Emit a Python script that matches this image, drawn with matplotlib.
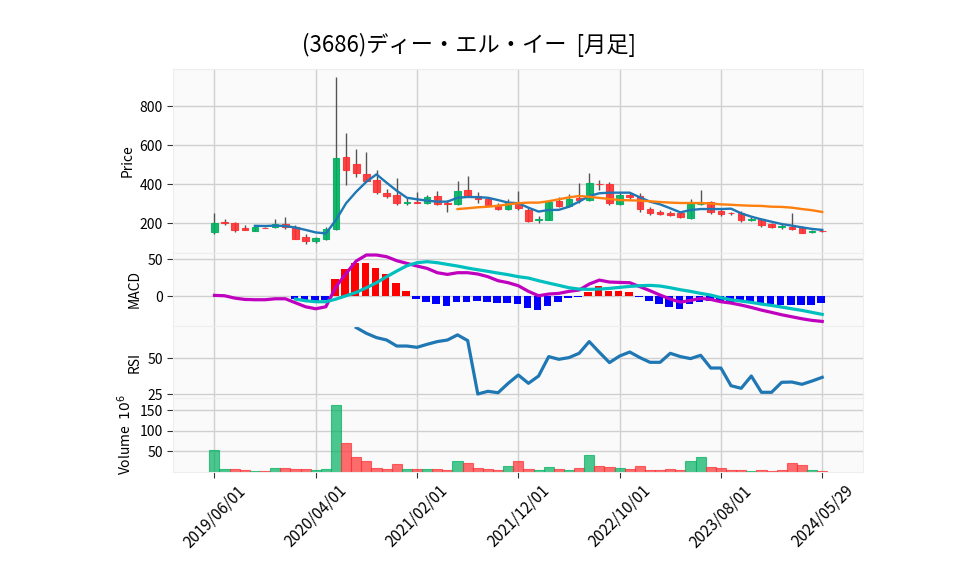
import numpy as np
import matplotlib
matplotlib.use('Agg')
from matplotlib import pyplot as plt

plt.rcParams['font.family'] = ['Noto Sans CJK JP', 'DejaVu Sans']

# monthly data (prices in yen, volume in millions)
tick_pos = [0, 10, 20, 30, 40, 50, 60]
tick_labels = ['2019/06/01', '2020/04/01', '2021/02/01', '2021/12/01',
               '2022/10/01', '2023/08/01', '2024/05/29']

opens = [157, 208, 200, 176, 162, 178, 181, 195, 179, 128, 108, 118, 169, 538, 503, 451,
         422, 355, 344, 305, 310, 306, 340, 302, 297, 371, 340, 323, 294, 275, 306, 268,
         217, 217, 314, 290, 330, 318, 403, 401, 300, 347, 340, 272, 260, 254, 251, 229,
         297, 308, 263, 255, 253, 219, 220, 196, 183, 181, 174, 154, 161]
highs = [251, 224, 208, 190, 182, 180, 220, 231, 191, 144, 131, 179, 949, 665, 583, 564,
         473, 376, 431, 336, 362, 344, 366, 319, 415, 443, 359, 330, 305, 325, 366, 277,
         237, 312, 333, 349, 405, 456, 422, 412, 353, 357, 354, 284, 268, 262, 258, 323,
         371, 314, 275, 260, 262, 230, 225, 200, 195, 251, 184, 168, 163]
lows = [145, 193, 154, 165, 160, 174, 178, 169, 119, 94, 100, 114, 165, 395, 436, 415,
        350, 328, 294, 294, 302, 297, 294, 260, 294, 336, 302, 292, 270, 268, 268, 207,
        200, 215, 282, 285, 305, 315, 371, 294, 294, 325, 260, 244, 244, 238, 225, 224,
        292, 248, 238, 245, 207, 212, 182, 174, 171, 168, 148, 150, 157]
closes = [200, 200, 167, 168, 179, 176, 195, 183, 121, 111, 125, 169, 535, 472, 459, 418,
          359, 342, 306, 308, 306, 336, 297, 299, 364, 342, 325, 295, 275, 303, 280, 213,
          224, 309, 290, 323, 321, 407, 399, 306, 345, 333, 272, 254, 248, 241, 231, 297,
          301, 256, 249, 252, 217, 222, 191, 181, 185, 172, 152, 162, 159]
volumes = [54, 7.7, 7.7, 5.3, 2.8, 2.8, 10, 10, 7.7, 7.7, 5.3, 7.7, 164, 71, 37, 25,
           10, 7.7, 20, 7.7, 7.7, 7.7, 7.7, 5.3, 25, 22, 10, 7.7, 5.3, 15, 25, 7.7,
           5.3, 12.6, 7.7, 5.3, 10, 42, 15, 12.6, 10, 7.7, 15, 5.3, 5.3, 7.7, 5.3, 27,
           37, 12.6, 10, 5.3, 5.3, 2.8, 5.3, 2.8, 5.3, 22, 17, 5.3, 2.8]
vol_up = [1, 1, 0, 0, 1, 0, 1, 0, 0, 0, 1, 1, 1, 0, 0, 0, 0, 0, 0, 1, 0, 1, 0, 0, 1, 0,
          0, 0, 0, 1, 0, 0, 1, 1, 0, 1, 0, 1, 0, 0, 1, 0, 0, 0, 0, 0, 0, 1, 1, 0, 0, 0,
          0, 1, 0, 0, 0, 0, 0, 1, 0]

nan = np.nan
ma5 = [nan] * 4 + [187, 186, 188, 186, 178, 166, 153, 148, 217, 303, 362, 413, 451, 408,
                   367, 331, 323, 316, 311, 311, 331, 335, 334, 331, 319, 306, 303, 280,
                   260, 268, 269, 285, 311, 340, 354, 357, 357, 357, 333, 311, 297, 277,
                   256, 268, 273, 273, 273, 275, 251, 234, 220, 208, 196, 188, 179, 171, 166]
ma25 = [nan] * 24 + [273, 277, 282, 285, 290, 297, 303, 306, 306, 313, 323, 333, 340,
                     336, 330, 325, 319, 318, 316, 313, 309, 306, 304, 304, 304, 301,
                     297, 295, 292, 290, 289, 285, 284, 280, 273, 267, 258]

macd = [1.4, 0.9, -2.3, -4.1, -4.5, -4.5, -3.2, -3.2, -8.6, -14, -16.7, -14, 13.1, 31,
        47.8, 55.9, 55.9, 53.6, 48.2, 44.6, 41, 37.8, 32, 29.7, 32, 32, 30.2, 26.6, 21.2,
        18.5, 14.4, 6.8, 0.9, 3.2, 4.1, 6.8, 8.6, 16.7, 22, 19.4, 18.9, 18.5, 13.1, 7.7,
        1.8, -3.6, -7.7, -5.4, -2.7, -4.1, -7.2, -9, -11.7, -14.9, -18.5, -21.6, -24.8,
        -27.5, -30.2, -32.4, -33.8]
signal = [nan] * 8 + [-3.6, -5.9, -7.2, -7.2, -3.6, 0.9, 5.4, 11.7, 18.5, 26.6, 34.2,
                      41.4, 45.5, 46.9, 45.5, 43.2, 41, 38.3, 36, 33.8, 31.5, 29.3, 26.6,
                      24.8, 21.2, 18, 14.9, 11.7, 9.9, 9.5, 9.9, 10.8, 12.2, 13.5, 14.4,
                      14.9, 14, 11.7, 9, 6.8, 4.1, 1.8, -1.8, -4.5, -6.3, -8.1, -10.4,
                      -12.2, -14.4, -16.7, -18.9, -21.6, -24.3]
hist = [nan] * 8 + [-4, -6, -6, -5, 23, 37, 44.6, 45.5, 38.7, 30.2, 18, 7.2, -3.2, -7.2,
                    -10.8, -12.6, -8.1, -7.2, -6.3, -7.2, -9.5, -9.5, -10.4, -15.3, -18.5,
                    -12.6, -8.1, -2.7, -0.3, 5.4, 14, 7.7, 7.7, 5.4, -1, -5.9, -10.8, -14,
                    -16.7, -10.8, -7, -6.5, -6.5, -7, -8, -9, -10, -10.5, -11, -11, -11,
                    -11, -9.5]
rsi = [nan] * 14 + [71.5, 67.5, 64.5, 62.8, 58.6, 58.6, 57.7, 59.8, 61.7, 62.8, 66.4,
                    62.4, 25, 26.9, 25.9, 32.5, 38.3, 32.5, 37.6, 51.2, 49.3, 50.5, 53.5,
                    61.7, 54.2, 47, 51.6, 54.4, 50.5, 47.2, 47.2, 53.5, 51.2, 49.8, 52.1,
                    43.2, 43.2, 30.8, 29, 37.6, 26.2, 26.2, 33.2, 33.4, 31.8, 34.1, 36.7]

up_c = '#00b060'
dn_c = '#fe3032'
x = np.arange(len(closes))
o = np.array(opens, float)
c = np.array(closes, float)
is_up = c >= o
body_col = [up_c if u else dn_c for u in is_up]

fig = plt.figure(figsize=(9.58, 5.75), dpi=100)
left, width = 0.181, 0.7203
ax_p = fig.add_axes([left, 0.5605, width, 0.319])
ax_m = fig.add_axes([left, 0.433, width, 0.1275], sharex=ax_p)
ax_r = fig.add_axes([left, 0.3073, width, 0.1257], sharex=ax_p)
ax_v = fig.add_axes([left, 0.1797, width, 0.1277], sharex=ax_p)

for ax in (ax_p, ax_m, ax_r, ax_v):
    ax.set_facecolor('#fafafa')
    ax.grid(True, color='#d0d0d0', linewidth=1.0)
    ax.set_axisbelow(True)
    for s in ax.spines.values():
        s.set_color('#eeeeee')
    ax.tick_params(axis='y', labelsize=10, length=4, color='#333333')
    ax.set_xticks(tick_pos)
    ax.tick_params(axis='x', length=0, labelbottom=False)

# candles
ax_p.vlines(x, lows, highs, color='#555555', linewidth=1.0, zorder=2)
ax_p.bar(x, np.abs(c - o), bottom=np.minimum(o, c), width=0.65, color=body_col,
         edgecolor=body_col, linewidth=0.8, alpha=0.9, zorder=3)
ax_p.plot(x, ma5, color='#1f77b4', linewidth=1.7, zorder=4)
ax_p.plot(x, ma25, color='#ff7f0e', linewidth=1.7, zorder=4)
ax_p.set_ylim(49, 990)
ax_p.set_yticks([200, 400, 600, 800])
ax_p.set_ylabel('Price', fontsize=10)

# macd
h = np.array(hist, float)
hcol = ['red' if v >= 0 else 'blue' for v in np.nan_to_num(h)]
ax_m.bar(x - 0.1, h, width=0.75, color=hcol, zorder=2)
ax_m.plot(x, macd, color='#bf00bf', linewidth=2.3, zorder=3)
ax_m.plot(x, signal, color='#00bfbf', linewidth=2.3, zorder=3)
ax_m.set_ylim(-40, 59)
ax_m.set_yticks([0, 50])
ax_m.set_ylabel('MACD', fontsize=10)

# rsi
ax_r.plot(x, rsi, color='#1f77b4', linewidth=2.3)
ax_r.set_ylim(22, 72.6)
ax_r.set_yticks([25, 50])
ax_r.set_ylabel('RSI', fontsize=10)

# volume
vcol = [up_c if u else dn_c for u in vol_up]
ax_v.bar(x, volumes, width=1.0, color=vcol, alpha=0.7, edgecolor=vcol, linewidth=0.8)
ax_v.set_ylim(0, 180)
ax_v.set_yticks([50, 100, 150])
ax_v.set_ylabel(r'Volume  $10^{6}$', fontsize=10)
ax_v.set_xlim(-4.05, 64.07)
ax_v.tick_params(axis='x', length=4, labelbottom=True, labelsize=11, color='#333333')
ax_v.set_xticklabels(tick_labels, rotation=45, ha='center')

fig.align_ylabels([ax_m, ax_r])
fig.text(0.49, 0.922, '(3686)ディー・エル・イー  [月足]', fontsize=16, ha='center', va='center')

fig.savefig('out.png', dpi=100)
